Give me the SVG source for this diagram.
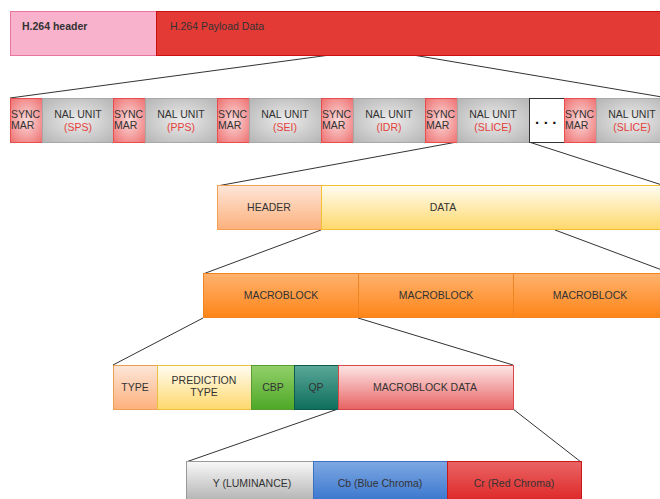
<svg xmlns="http://www.w3.org/2000/svg" width="660" height="499" viewBox="0 0 660 499">
<defs>
<radialGradient id="gSync" cx="50%" cy="50%" r="70%">
<stop offset="0" stop-color="#fbdada"/><stop offset="1" stop-color="#ee6f6f"/>
</radialGradient>
<radialGradient id="gNal" cx="50%" cy="50%" r="70%">
<stop offset="0" stop-color="#ececec"/><stop offset="1" stop-color="#b4b4b4"/>
</radialGradient>
<linearGradient id="gHdr" x1="0" y1="0" x2="0" y2="1"><stop offset="0" stop-color="#fde6d8"/><stop offset="1" stop-color="#fdb07c"/></linearGradient>
<linearGradient id="gData" x1="0" y1="0" x2="0" y2="1"><stop offset="0" stop-color="#fffdf2"/><stop offset="1" stop-color="#fed86c"/></linearGradient>
<linearGradient id="gMb" x1="0" y1="0" x2="0" y2="1"><stop offset="0" stop-color="#ffb26e"/><stop offset="1" stop-color="#fe8518"/></linearGradient>
<linearGradient id="gCbp" x1="0" y1="0" x2="0" y2="1"><stop offset="0" stop-color="#92d06a"/><stop offset="1" stop-color="#4ea826"/></linearGradient>
<linearGradient id="gQp" x1="0" y1="0" x2="0" y2="1"><stop offset="0" stop-color="#5aa898"/><stop offset="1" stop-color="#0e6e5c"/></linearGradient>
<linearGradient id="gMbd" x1="0" y1="0" x2="0" y2="1"><stop offset="0" stop-color="#fde6e6"/><stop offset="1" stop-color="#e86262"/></linearGradient>
<linearGradient id="gY" x1="0" y1="0" x2="0" y2="1"><stop offset="0" stop-color="#f8f8f8"/><stop offset="1" stop-color="#a8a8a8"/></linearGradient>
<linearGradient id="gCb" x1="0" y1="0" x2="0" y2="1"><stop offset="0" stop-color="#7ea8e2"/><stop offset="1" stop-color="#2f6ecb"/></linearGradient>
<linearGradient id="gCr" x1="0" y1="0" x2="0" y2="1"><stop offset="0" stop-color="#ea6464"/><stop offset="1" stop-color="#dc1e1e"/></linearGradient>
</defs>
<style>
text{font-family:"Liberation Sans",Arial,sans-serif;font-size:10.5px;fill:#333}
.c{text-anchor:middle}
.r{fill:#e5403b}
.sync{fill:url(#gSync);stroke:#e84c4c;stroke-width:1}
.nal{fill:url(#gNal);stroke:#a8a8a8;stroke-width:1}
.ln{stroke:#333;stroke-width:1;fill:none}
</style>

<g id="connectors">
<line class="ln" x1="330" y1="55" x2="10" y2="98"/>
<line class="ln" x1="413" y1="55" x2="662" y2="97"/>
<line class="ln" x1="457" y1="142" x2="217" y2="186"/>
<line class="ln" x1="529" y1="142" x2="662" y2="185"/>
<line class="ln" x1="321" y1="230" x2="203" y2="274"/>
<line class="ln" x1="555" y1="230" x2="662" y2="270"/>
<line class="ln" x1="203" y1="318" x2="113" y2="365"/>
<line class="ln" x1="358" y1="318" x2="513" y2="365"/>
<line class="ln" x1="338" y1="409" x2="186" y2="462"/>
<line class="ln" x1="513" y1="409" x2="581" y2="462"/>
</g>

<g id="h264-header">
<rect x="10.5" y="11.5" width="146" height="44" fill="#f8b2cb" stroke="#e8759c"/>
<text x="22" y="30" style="font-weight:bold">H.264 header</text>
</g>
<g id="h264-payload">
<rect x="156.5" y="11.5" width="510" height="44" fill="#e33a36" stroke="#cc0e0e"/>
<text x="170" y="30">H.264 Payload Data</text>
</g>

<g id="sync1"><rect class="sync" x="10.5" y="98.5" width="32" height="44"/><text x="11" y="118">SYNC</text><text x="11" y="129">MAR</text></g>
<g id="nal-sps"><rect class="nal" x="42.5" y="98.5" width="71" height="44"/><text class="c" x="78" y="118">NAL UNIT</text><text class="c r" x="78" y="131">(SPS)</text></g>
<g id="sync2"><rect class="sync" x="113.5" y="98.5" width="32" height="44"/><text x="114" y="118">SYNC</text><text x="114" y="129">MAR</text></g>
<g id="nal-pps"><rect class="nal" x="145.5" y="98.5" width="72" height="44"/><text class="c" x="181" y="118">NAL UNIT</text><text class="c r" x="181" y="131">(PPS)</text></g>
<g id="sync3"><rect class="sync" x="217.5" y="98.5" width="32" height="44"/><text x="218" y="118">SYNC</text><text x="218" y="129">MAR</text></g>
<g id="nal-sei"><rect class="nal" x="249.5" y="98.5" width="72" height="44"/><text class="c" x="285" y="118">NAL UNIT</text><text class="c r" x="285" y="131">(SEI)</text></g>
<g id="sync4"><rect class="sync" x="321.5" y="98.5" width="32" height="44"/><text x="322" y="118">SYNC</text><text x="322" y="129">MAR</text></g>
<g id="nal-idr"><rect class="nal" x="353.5" y="98.5" width="72" height="44"/><text class="c" x="389" y="118">NAL UNIT</text><text class="c r" x="389" y="131">(IDR)</text></g>
<g id="sync5"><rect class="sync" x="425.5" y="98.5" width="32" height="44"/><text x="426" y="118">SYNC</text><text x="426" y="129">MAR</text></g>
<g id="nal-slice1"><rect class="nal" x="457.5" y="98.5" width="72" height="44"/><text class="c" x="493" y="118">NAL UNIT</text><text class="c r" x="493" y="131">(SLICE)</text></g>
<g id="dots"><rect x="529.5" y="98.5" width="35" height="44" fill="#fff" stroke="#333"/><text x="535" y="124" style="font-size:15px;font-weight:bold;letter-spacing:4.5px;fill:#111">...</text></g>
<g id="sync6"><rect class="sync" x="564.5" y="98.5" width="32" height="44"/><text x="565" y="118">SYNC</text><text x="565" y="129">MAR</text></g>
<g id="nal-slice2"><rect class="nal" x="596.5" y="98.5" width="72" height="44"/><text class="c" x="632" y="118">NAL UNIT</text><text class="c r" x="632" y="131">(SLICE)</text></g>

<g id="header"><rect x="217.5" y="185.5" width="104" height="44" fill="url(#gHdr)" stroke="#f5a050"/><text class="c" x="269" y="211">HEADER</text></g>
<g id="data"><rect x="321.5" y="185.5" width="345" height="44" fill="url(#gData)" stroke="#f5c030"/><text class="c" x="443" y="211">DATA</text></g>

<g id="mb1"><rect x="203.5" y="273.5" width="155" height="44" fill="url(#gMb)" stroke="#f08420"/><text class="c" x="281" y="299">MACROBLOCK</text></g>
<g id="mb2"><rect x="358.5" y="273.5" width="155" height="44" fill="url(#gMb)" stroke="#f08420"/><text class="c" x="436" y="299">MACROBLOCK</text></g>
<g id="mb3"><rect x="513.5" y="273.5" width="155" height="44" fill="url(#gMb)" stroke="#f08420"/><text class="c" x="590" y="299">MACROBLOCK</text></g>

<g id="type"><rect x="113.5" y="365.5" width="44" height="44" fill="url(#gHdr)" stroke="#eaa050"/><text class="c" x="135" y="391">TYPE</text></g>
<g id="prediction-type"><rect x="157.5" y="365.5" width="94" height="44" fill="url(#gData)" stroke="#ebc040"/><text class="c" x="204" y="384">PREDICTION</text><text class="c" x="204" y="396">TYPE</text></g>
<g id="cbp"><rect x="251.5" y="365.5" width="43" height="44" fill="url(#gCbp)" stroke="#5a9a30"/><text class="c" x="273" y="391">CBP</text></g>
<g id="qp"><rect x="294.5" y="365.5" width="44" height="44" fill="url(#gQp)" stroke="#0e5a4e"/><text class="c" x="316" y="391">QP</text></g>
<g id="mb-data"><rect x="338.5" y="365.5" width="175" height="44" fill="url(#gMbd)" stroke="#d84848"/><text class="c" x="425" y="391">MACROBLOCK DATA</text></g>

<g id="y"><rect x="186.5" y="461.5" width="127" height="46" fill="url(#gY)" stroke="#999"/><text class="c" x="252" y="487">Y (LUMINANCE)</text></g>
<g id="cb"><rect x="313.5" y="461.5" width="134" height="46" fill="url(#gCb)" stroke="#3a70c0"/><text class="c" x="380" y="487">Cb (Blue Chroma)</text></g>
<g id="cr"><rect x="447.5" y="461.5" width="134" height="46" fill="url(#gCr)" stroke="#c81818"/><text class="c" x="514" y="487">Cr (Red Chroma)</text></g>
</svg>
